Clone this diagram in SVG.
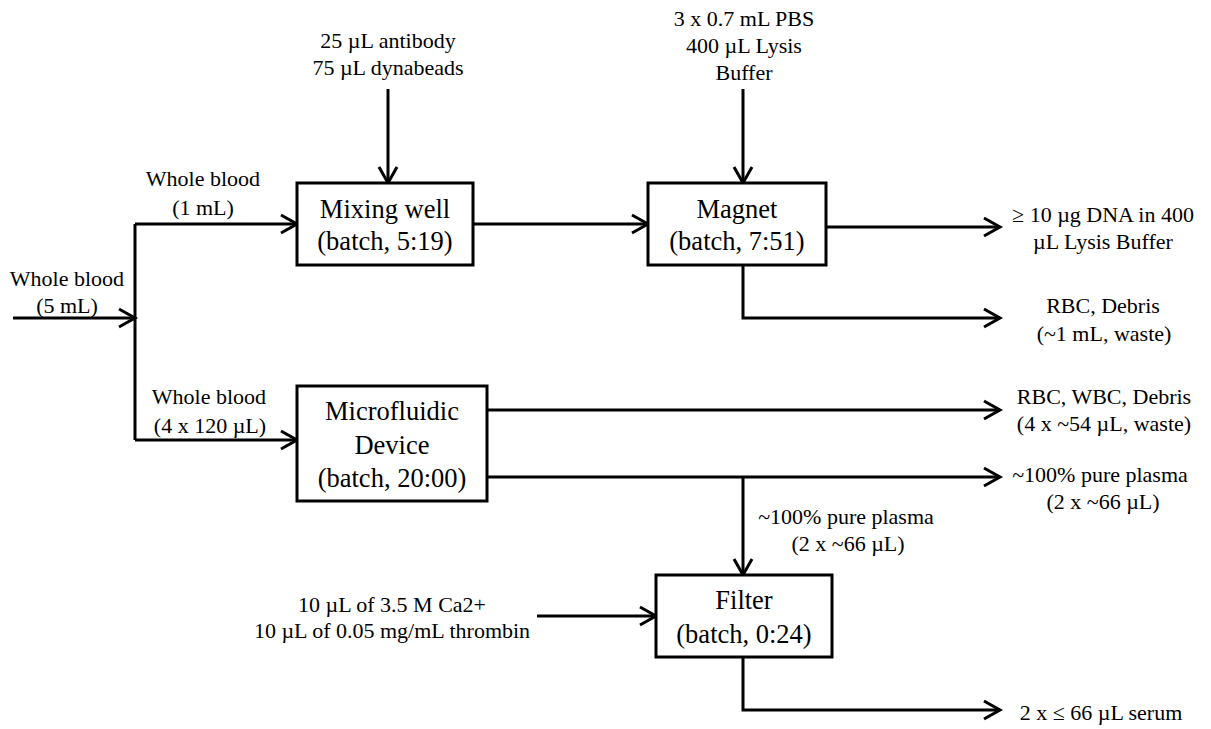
<svg xmlns="http://www.w3.org/2000/svg" width="1211" height="729" viewBox="0 0 1211 729">
<style>
  .box { fill: #fff; stroke: #000; stroke-width: 3; }
  .node { font-size: 26.5px; fill: #000; text-anchor: middle; }
  .lbl { font-size: 22px; fill: #000; text-anchor: middle; }
  .ln { fill: none; stroke: #000; stroke-width: 3; }
  .arr { marker-end: url(#ah); }
</style>
<defs>
  <marker id="ah" markerUnits="userSpaceOnUse" viewBox="-20 -12 24 24" markerWidth="24" markerHeight="24" refX="0" refY="0" orient="auto" overflow="visible">
    <path d="M-16,-9 L0,0 L-16,9" fill="none" stroke="#000" stroke-width="3"/>
  </marker>
</defs>
<rect width="1211" height="729" fill="#fff"/>

<g id="connectors">
  <path class="ln arr" d="M13,318 H135"/>
  <path class="ln" d="M135,224 V440"/>
  <path class="ln arr" d="M135,224 H297"/>
  <path class="ln arr" d="M135,440 H297"/>
  <path class="ln arr" d="M388,89 V183"/>
  <path class="ln arr" d="M473,224 H648"/>
  <path class="ln arr" d="M743,89 V183"/>
  <path class="ln arr" d="M826,227 H1000"/>
  <path class="ln arr" d="M743,265 V318 H1000"/>
  <path class="ln arr" d="M487,410 H1000"/>
  <path class="ln arr" d="M487,477 H1000"/>
  <path class="ln arr" d="M743,477 V575"/>
  <path class="ln arr" d="M537,616 H656"/>
  <path class="ln arr" d="M743,657 V710 H1000"/>
</g>

<g id="labels" font-family="Liberation Serif, DejaVu Serif, serif">
  <text class="lbl" x="67" y="286">Whole blood</text>
  <text class="lbl" x="67" y="313">(5 mL)</text>
  <text class="lbl" x="203" y="186">Whole blood</text>
  <text class="lbl" x="203" y="215">(1 mL)</text>
  <text class="lbl" x="209" y="404">Whole blood</text>
  <text class="lbl" x="210" y="433">(4 x 120 µL)</text>
  <text class="lbl" x="388" y="48">25 µL antibody</text>
  <text class="lbl" x="388" y="75">75 µL dynabeads</text>
  <text class="lbl" x="744" y="26">3 x 0.7 mL PBS</text>
  <text class="lbl" x="744" y="53">400 µL Lysis</text>
  <text class="lbl" x="744" y="80">Buffer</text>
  <text class="lbl" x="1103" y="222">≥ 10 µg DNA in 400</text>
  <text class="lbl" x="1103" y="249">µL Lysis Buffer</text>
  <text class="lbl" x="1103" y="313">RBC, Debris</text>
  <text class="lbl" x="1104" y="341">(~1 mL, waste)</text>
  <text class="lbl" x="1104" y="404">RBC, WBC, Debris</text>
  <text class="lbl" x="1104" y="431">(4 x ~54 µL, waste)</text>
  <text class="lbl" x="1100" y="482">~100% pure plasma</text>
  <text class="lbl" x="1103" y="509">(2 x ~66 µL)</text>
  <text class="lbl" x="846" y="524">~100% pure plasma</text>
  <text class="lbl" x="848" y="551">(2 x ~66 µL)</text>
  <text class="lbl" x="392" y="612">10 µL of 3.5 M Ca2+</text>
  <text class="lbl" x="392" y="638">10 µL of 0.05 mg/mL thrombin</text>
  <text class="lbl" x="1101" y="720">2 x ≤ 66 µL serum</text>
</g>

<g id="mixing-well" font-family="Liberation Serif, DejaVu Serif, serif">
  <rect class="box" x="297" y="183" width="176" height="82"/>
  <text class="node" x="385" y="218">Mixing well</text>
  <text class="node" x="385" y="250">(batch, 5:19)</text>
</g>
<g id="magnet" font-family="Liberation Serif, DejaVu Serif, serif">
  <rect class="box" x="648" y="183" width="178" height="82"/>
  <text class="node" x="737" y="218">Magnet</text>
  <text class="node" x="737" y="250">(batch, 7:51)</text>
</g>
<g id="microfluidic-device" font-family="Liberation Serif, DejaVu Serif, serif">
  <rect class="box" x="297" y="386" width="190" height="115"/>
  <text class="node" x="392" y="420">Microfluidic</text>
  <text class="node" x="392" y="454">Device</text>
  <text class="node" x="392" y="487">(batch, 20:00)</text>
</g>
<g id="filter" font-family="Liberation Serif, DejaVu Serif, serif">
  <rect class="box" x="656" y="575" width="176" height="82"/>
  <text class="node" x="744" y="609">Filter</text>
  <text class="node" x="744" y="643">(batch, 0:24)</text>
</g>
</svg>
